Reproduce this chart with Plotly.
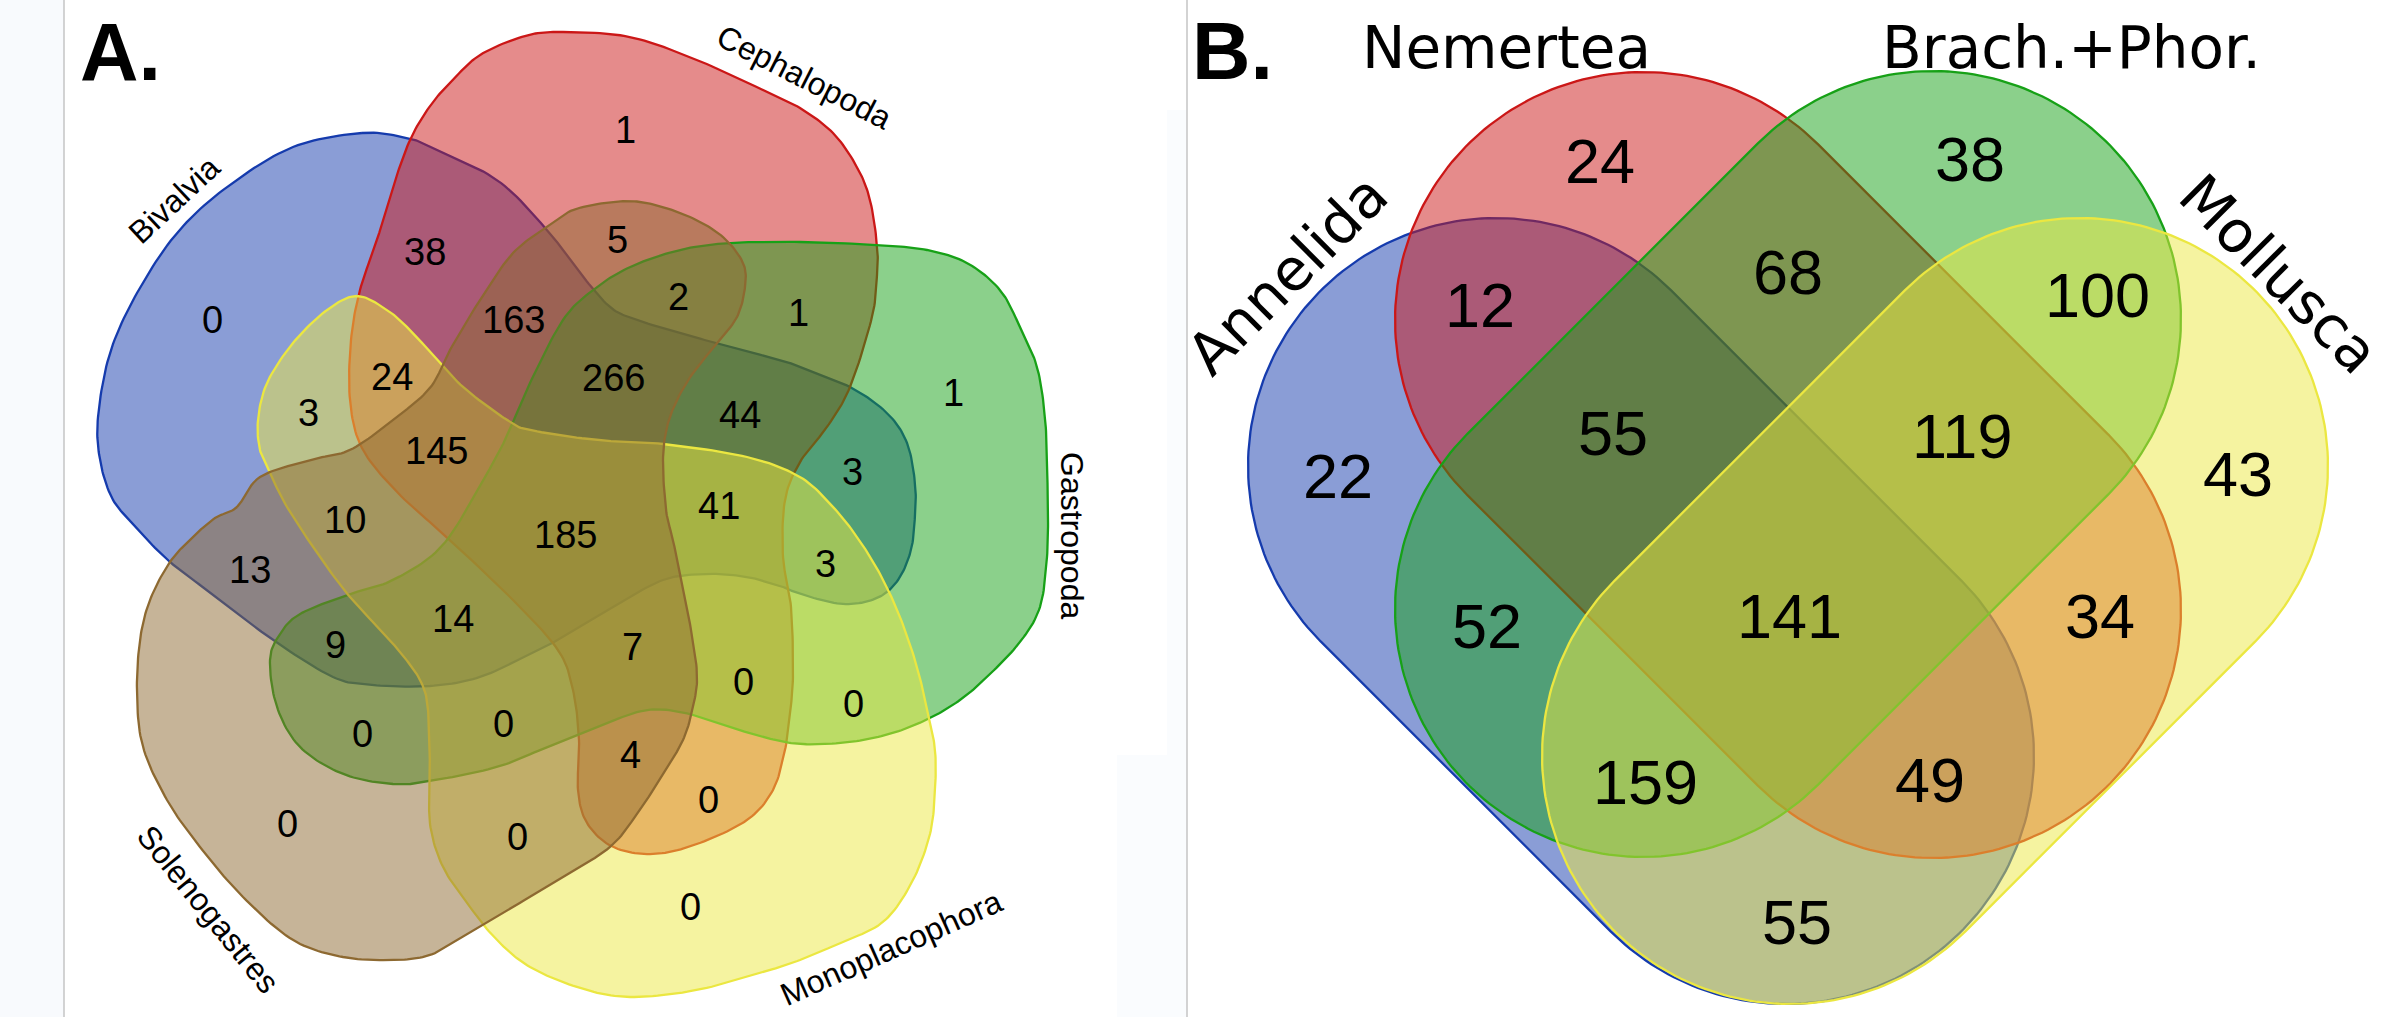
import numpy as np
import plotly.graph_objects as go

W, H = 2398, 1017

# ---------------- DATA ----------------
# Panel A: five mollusc classes
A_sets = ["Bivalvia", "Cephalopoda", "Gastropoda", "Monoplacophora", "Solenogastres"]
A_counts = [0, 38, 1, 5, 163, 2, 1, 266, 24, 3, 145, 44, 1, 3, 41, 10, 185, 3,
            13, 14, 9, 7, 0, 0, 0, 0, 4, 0, 0, 0, 0]
# Panel B: four phyla
B_sets = ["Annelida", "Nemertea", "Brach.+Phor.", "Mollusca"]
B_counts = [24, 38, 12, 68, 100, 55, 119, 22, 43, 52, 141, 34, 159, 49, 55]
panel_tags = ["A.", "B."]

# ---------------- LAYOUT / GEOMETRY ----------------
A_count_pos = [(212, 320), (425, 252), (625, 130), (617, 240), (513, 320), (678, 297),
               (798, 313), (613, 378), (392, 377), (308, 413), (436, 451), (740, 415),
               (953, 393), (852, 472), (719, 506), (345, 520), (565, 535), (825, 564),
               (250, 570), (453, 619), (335, 645), (632, 647), (743, 682), (853, 704),
               (362, 734), (503, 724), (630, 755), (708, 800), (287, 824), (517, 837),
               (690, 907)]
A_label_pos = [(174, 200, -43), (804, 77, 27), (1072, 535, 90), (891, 948, -24), (208, 909, 51)]

B_count_pos = [(1600, 161), (1970, 159), (1480, 305), (1788, 272), (2097, 295),
               (1613, 433), (1962, 436), (1338, 476), (2238, 474), (1487, 626),
               (1789, 616), (2100, 616), (1645, 782), (1930, 780), (1797, 922)]
B_label_pos = [(1287, 275, -45), (1506, 48, 0), (2071, 48, 0), (2279, 274, 45)]

# colours (blue, red, green, yellow, brown)
base_cols = [(21, 59, 173), (203, 23, 23), (23, 161, 23), (235, 231, 65), (141, 105, 49)]

# outline control points of the five blobs in panel A (pixel space)
A_outlines = [
    # Bivalvia
    [(362, 133), (407, 138), (430, 147), (497, 180), (547, 230), (580, 273), (610, 307),
     (637, 320), (680, 333), (730, 347), (780, 360), (800, 367), (850, 387), (887, 413),
     (907, 443), (915, 483), (915, 515), (911, 550), (898, 580), (877, 598), (843, 604),
     (800, 594), (783, 587), (747, 577), (707, 574), (663, 580), (613, 607), (563, 637),
     (530, 654), (480, 677), (430, 686), (373, 685), (333, 677), (273, 640), (222, 601),
     (170, 562), (133, 524), (112, 498), (100, 460), (98, 417), (110, 353), (137, 293),
     (177, 233), (227, 187), (293, 147)],
    # Cephalopoda
    [(563, 32), (630, 37), (697, 60), (763, 90), (800, 108), (833, 133), (857, 167),
     (870, 200), (877, 245), (877, 275), (872, 317), (850, 387), (827, 427), (800, 462),
     (785, 500), (783, 557), (791, 607), (793, 674), (790, 714), (785, 750), (773, 790),
     (747, 820), (697, 844), (653, 854), (613, 847), (587, 823), (578, 790), (579, 740),
     (573, 690), (558, 650), (513, 600), (450, 540), (398, 493), (362, 448), (350, 400),
     (351, 340), (360, 290), (377, 240), (393, 187), (410, 140), (430, 106), (450, 83),
     (480, 55), (525, 36)],
    # Gastropoda
    [(800, 242), (877, 245), (927, 250), (967, 263), (1000, 290), (1020, 327), (1037, 367),
     (1045, 417), (1047, 467), (1048, 510), (1047, 557), (1040, 607), (1020, 642),
     (987, 677), (960, 700), (930, 718), (893, 733), (850, 742), (800, 744), (763, 737),
     (730, 727), (690, 714), (647, 710), (597, 727), (547, 747), (497, 767), (430, 781),
     (393, 784), (343, 774), (300, 747), (277, 707), (270, 660), (280, 634), (300, 614),
     (347, 595), (393, 580), (442, 546), (482, 482), (505, 440), (530, 383), (563, 320),
     (593, 290), (630, 267), (680, 250), (730, 243)],
    # Monoplacophora
    [(357, 296), (387, 310), (410, 330), (432, 354), (463, 387), (507, 420), (530, 430),
     (597, 440), (663, 444), (747, 457), (800, 477), (833, 507), (857, 537), (880, 574),
     (900, 617), (917, 667), (928, 714), (935, 750), (935, 790), (930, 834), (912, 882),
     (883, 922), (840, 943), (800, 960), (763, 972), (697, 990), (630, 997), (580, 988),
     (530, 967), (497, 940), (470, 907), (443, 867), (430, 824), (430, 774), (428, 710),
     (422, 684), (408, 662), (387, 637), (350, 597), (320, 557), (287, 507), (270, 473),
     (260, 450), (258, 420), (267, 383), (293, 343), (327, 310)],
    # Solenogastres
    [(237, 507), (260, 477), (310, 460), (350, 450), (393, 420), (430, 388), (450, 350),
     (480, 300), (513, 253), (547, 227), (573, 210), (613, 202), (647, 203), (690, 217),
     (723, 237), (743, 263), (745, 287), (737, 317), (717, 343), (693, 373), (677, 400),
     (667, 427), (663, 460), (666, 510), (673, 540), (680, 574), (690, 624), (697, 674),
     (693, 707), (683, 740), (663, 774), (637, 814), (610, 847), (563, 877), (513, 907),
     (463, 937), (430, 955), (393, 960), (343, 957), (293, 940), (243, 897), (200, 847),
     (167, 800), (143, 747), (137, 694), (140, 640), (150, 600), (170, 562), (193, 537),
     (215, 518)],
]

# panel B stadium shapes: centre, axis direction
B_stadia = [((1641, 611), (1, 1)), ((1788, 465), (1, 1)), ((1788, 464), (-1, 1)), ((1935, 611), (-1, 1))]
B_half_len, B_radius = 205, 248


def smooth_closed(pts, n=14):
    P = np.array(pts, float)
    m = len(P)
    t = np.linspace(0, 1, n, endpoint=False)[:, None]
    segs = []
    for i in range(m):
        p0, p1, p2, p3 = P[(i - 1) % m], P[i], P[(i + 1) % m], P[(i + 2) % m]
        seg = 0.5 * ((2 * p1) + (-p0 + p2) * t + (2 * p0 - 5 * p1 + 4 * p2 - p3) * t ** 2
                     + (-p0 + 3 * p1 - 3 * p2 + p3) * t ** 3)
        segs.append(seg)
    out = np.vstack(segs)
    return np.vstack([out, out[:1]])


def stadium(c, d, L, r, n=120):
    c = np.array(c, float)
    u = np.array(d, float)
    u /= np.linalg.norm(u)
    v = np.array([-u[1], u[0]])
    t1 = np.linspace(-np.pi / 2, np.pi / 2, n)
    t2 = np.linspace(np.pi / 2, 3 * np.pi / 2, n)
    a = (c + L * u)[None, :] + r * (np.cos(t1)[:, None] * u + np.sin(t1)[:, None] * v)
    b = (c - L * u)[None, :] + r * (np.cos(t2)[:, None] * u + np.sin(t2)[:, None] * v)
    pts = np.vstack([a, b])
    return np.vstack([pts, pts[:1]])


def rgba(c, a):
    return f"rgba({c[0]},{c[1]},{c[2]},{a})"


fig = go.Figure()

# Panel A blobs
for i, outline in enumerate(A_outlines):
    p = smooth_closed(outline)
    fig.add_trace(go.Scatter(x=p[:, 0], y=p[:, 1], mode="lines", fill="toself",
                             fillcolor=rgba(base_cols[i], 0.5),
                             line=dict(color=rgba(base_cols[i], 1), width=2.3),
                             hoverinfo="skip", showlegend=False))

# Panel B stadia
for i, (c, d) in enumerate(B_stadia):
    p = stadium(c, d, B_half_len, B_radius)
    fig.add_trace(go.Scatter(x=p[:, 0], y=p[:, 1], mode="lines", fill="toself",
                             fillcolor=rgba(base_cols[i], 0.5),
                             line=dict(color=rgba(base_cols[i], 1), width=2.3),
                             hoverinfo="skip", showlegend=False))

ann = []
for v, (x, y) in zip(A_counts, A_count_pos):
    ann.append(dict(x=x, y=y, text=str(v), showarrow=False, xanchor="center", yanchor="middle",
                    font=dict(family="Liberation Sans, Arial, sans-serif", size=38, color="black")))
for name, (x, y, ang) in zip(A_sets, A_label_pos):
    ann.append(dict(x=x, y=y, text=name, showarrow=False, textangle=ang, xanchor="center",
                    yanchor="middle",
                    font=dict(family="Liberation Sans, Arial, sans-serif", size=32, color="black")))
for v, (x, y) in zip(B_counts, B_count_pos):
    ann.append(dict(x=x, y=y, text=str(v), showarrow=False, xanchor="center", yanchor="middle",
                    font=dict(family="Liberation Sans Narrow, Arial Narrow, Liberation Sans, sans-serif",
                              size=63, color="black")))
for name, (x, y, ang) in zip(B_sets, B_label_pos):
    ann.append(dict(x=x, y=y, text=name, showarrow=False, textangle=ang, xanchor="center",
                    yanchor="middle",
                    font=dict(family="DejaVu Sans, sans-serif", size=58, color="black")))
for tag, (x, y) in zip(panel_tags, [(120, 52), (1232, 51)]):
    ann.append(dict(x=x, y=y, text=f"<b>{tag}</b>", showarrow=False, xanchor="center",
                    yanchor="middle",
                    font=dict(family="Liberation Sans, Arial, sans-serif", size=81, color="black")))

shapes = [
    dict(type="rect", x0=0, x1=64, y0=0, y1=H, line=dict(width=0), fillcolor="#f8fafd", layer="below"),
    dict(type="rect", x0=1117, x1=1187, y0=755, y1=H, line=dict(width=0), fillcolor="#fafcfe", layer="below"),
    dict(type="rect", x0=1167, x1=1187, y0=110, y1=755, line=dict(width=0), fillcolor="#fafcfe", layer="below"),
    dict(type="line", x0=64, x1=64, y0=0, y1=H, line=dict(color="#c4c4c4", width=1.5)),
    dict(type="line", x0=1187, x1=1187, y0=0, y1=H, line=dict(color="#c4c4c4", width=1.5)),
]

fig.update_layout(
    width=W, height=H, margin=dict(l=0, r=0, t=0, b=0),
    paper_bgcolor="white", plot_bgcolor="white",
    xaxis=dict(range=[0, W], visible=False, fixedrange=True),
    yaxis=dict(range=[H, 0], visible=False, fixedrange=True),
    annotations=ann, shapes=shapes, showlegend=False,
)

fig.write_html("out.html", config={"displayModeBar": False},
               post_script="document.body.style.margin='0';document.body.style.overflow='hidden';")
